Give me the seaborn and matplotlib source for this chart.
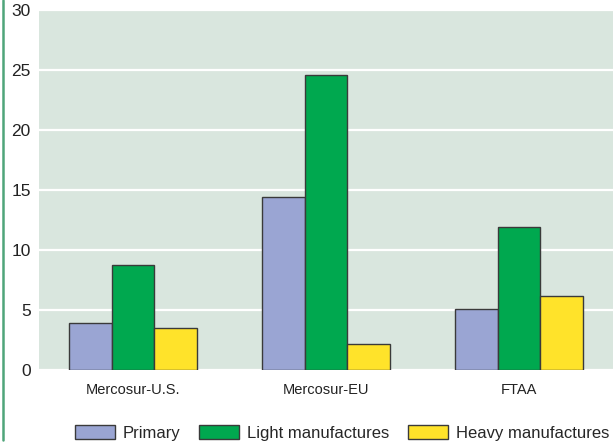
import matplotlib
matplotlib.use("Agg")
import matplotlib.pyplot as plt
from matplotlib.lines import Line2D
import seaborn as sns
import pandas as pd

# Tariff-liberalisation scenarios and the three product groups
scenarios = ["Mercosur-U.S.", "Mercosur-EU", "FTAA"]
primary = [3.9, 14.4, 5.1]
light_manufactures = [8.75, 24.6, 11.9]
heavy_manufactures = [3.5, 2.15, 6.15]
groups = ["Primary", "Light manufactures", "Heavy manufactures"]
y_ticks = [0, 5, 10, 15, 20, 25, 30]

colors = ["#9aa5d3", "#00a84f", "#ffe32a"]
bg = "#d9e6de"

df = pd.DataFrame({
    "scenario": scenarios * 3,
    "group": [groups[0]] * 3 + [groups[1]] * 3 + [groups[2]] * 3,
    "value": primary + light_manufactures + heavy_manufactures,
})

sns.set_theme(style="white")
plt.rcParams["font.family"] = ["Liberation Sans", "DejaVu Sans"]

fig = plt.figure(figsize=(6.13, 4.46), dpi=100)
ax = fig.add_axes([39 / 613, 1 - 370 / 446, 1 - 39 / 613, 360 / 446])
ax.set_facecolor(bg)

sns.barplot(data=df, x="scenario", y="value", hue="group", order=scenarios,
            hue_order=groups, palette=colors, saturation=1, width=0.668,
            gap=0, edgecolor="#3a3a3a", linewidth=1.0, ax=ax, legend=False,
            zorder=3)

ax.set_ylim(0, 30)
ax.set_xlim(-0.487, 2.487)
ax.set_yticks(y_ticks)
ax.yaxis.grid(True, color="white", linewidth=1.6, zorder=0)
ax.set_axisbelow(True)
for s in ax.spines.values():
    s.set_visible(False)
ax.tick_params(axis="both", length=0)
ax.tick_params(axis="y", labelsize=12.5, pad=6, labelcolor="#222222")
ax.tick_params(axis="x", labelsize=10.5, pad=9, labelcolor="#222222")
ax.set_xlabel("")
ax.set_ylabel("")

# Decorative green rule down the left side
fig.add_artist(Line2D([2.5 / 613, 2.5 / 613], [1 - 440 / 446, 1.0],
                      color="#4fa57a", linewidth=1.8))

# Legend along the bottom
handles = [plt.Rectangle((0, 0), 1, 1, facecolor=c, edgecolor="#3a3a3a",
                         linewidth=1.0) for c in colors]
fig.legend(handles, groups, loc="center", bbox_to_anchor=(342 / 613, 1 - 433 / 446),
           ncol=3, frameon=False, fontsize=12, handlelength=2.4,
           handleheight=0.85, handletextpad=0.45, columnspacing=1.15,
           borderaxespad=0, borderpad=0)

fig.savefig("out.png", dpi=100)
